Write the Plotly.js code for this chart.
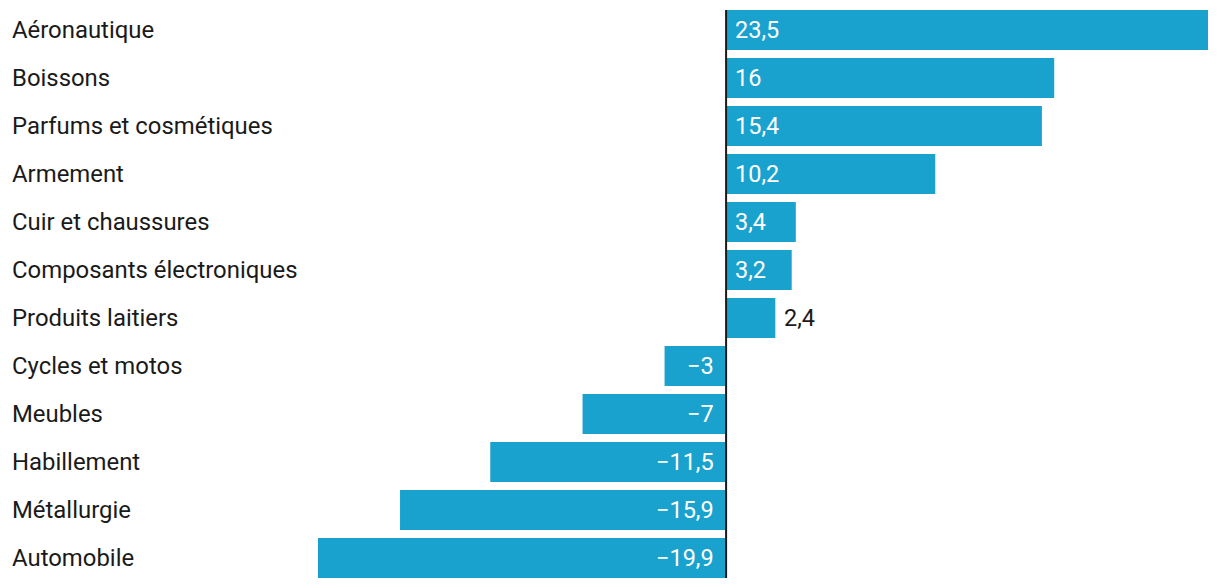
<!DOCTYPE html>
<html><head><meta charset="utf-8">
<script src="https://cdn.plot.ly/plotly-3.0.1.min.js"></script>
<style>body{margin:0;background:#fff}#c{width:1220px;height:588px}</style>
</head><body><div id="c"></div>
<script>
const categories = ["Aéronautique","Boissons","Parfums et cosmétiques","Armement","Cuir et chaussures","Composants électroniques","Produits laitiers","Cycles et motos","Meubles","Habillement","Métallurgie","Automobile"];
const values = [23.5, 16, 15.4, 10.2, 3.4, 3.2, 2.4, -3, -7, -11.5, -15.9, -19.9];
const outsideLabels = ["Produits laitiers"];

const barColor = "#1aa2cf";
const fmt = v => (v < 0 ? "\u2212" : "") + String(Math.abs(v)).replace(".", ",");

const L = 318, R = 12, W = 1220;
const annotations = [];
categories.forEach((c, i) => {
  annotations.push({xref: "paper", yref: "y", x: (10 - L) / (W - L - R), y: c, text: c,
    xanchor: "left", yanchor: "middle", showarrow: false,
    font: {family: "Roboto", size: 23.9, color: "#1a1a1a"}});
  const v = values[i];
  const outside = outsideLabels.includes(c);
  annotations.push({xref: "x", yref: "y", x: outside ? v : 0, y: c, text: fmt(v),
    xanchor: v >= 0 ? "left" : "right", yanchor: "middle", showarrow: false,
    xshift: v >= 0 ? 7 : -10,
    font: {family: "Roboto", size: 23.5, color: outside ? "#1a1a1a" : "#ffffff"}});
});

Plotly.newPlot("c", [{
  type: "bar", orientation: "h", y: categories, x: values,
  marker: {color: barColor}, hoverinfo: "none"
}], {
  width: 1220, height: 588,
  margin: {l: L, r: R, t: 6, b: 6},
  paper_bgcolor: "#fff", plot_bgcolor: "#fff",
  bargap: 8 / 48,
  showlegend: false,
  xaxis: {range: [-19.9, 23.5], showgrid: false, zeroline: false, showticklabels: false, ticks: ""},
  yaxis: {autorange: "reversed", showgrid: false, zeroline: false, showticklabels: false, ticks: ""},
  shapes: [{type: "line", xref: "x", yref: "paper", x0: 0, x1: 0, y0: (0.5 - 0.4167) / 12, y1: 1 - (0.5 - 0.4167) / 12,
    line: {color: "#1a1a1a", width: 2}}],
  annotations: annotations
}, {displayModeBar: false, staticPlot: true});
</script></body></html>
